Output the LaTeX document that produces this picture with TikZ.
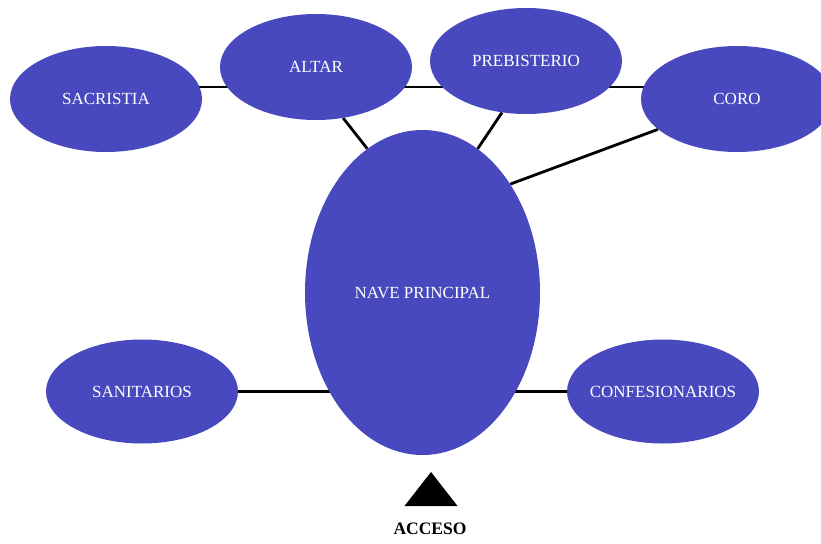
\documentclass[tikz,border=0pt]{standalone}
\usepackage{fontspec}
\setmainfont{Liberation Serif}
\usetikzlibrary{shapes.geometric}
\definecolor{azul}{HTML}{4849BE}
\pgfdeclarelayer{background}
\pgfsetlayers{background,main}

\begin{document}
\begin{tikzpicture}[x=1pt, y=-1pt,
  zona/.style={ellipse, fill=azul, text=white, inner sep=0pt,
    minimum width=192pt, minimum height=106pt,
    font=\fontsize{17}{20}\selectfont},
  linea/.style={line width=2.8pt}]
\useasboundingbox (0,0) rectangle (821,543);

\node[zona] (SAC) at (106,99) {SACRISTIA};
\node[zona] (ALT) at (316,67) {ALTAR};
\node[zona] (PRE) at (526,61) {PREBISTERIO};
\node[zona] (COR) at (737,99) {CORO};
\node[zona, minimum width=235pt, minimum height=325pt] (NAV) at (422.5,292.5) {NAVE PRINCIPAL};
\node[zona, minimum height=104pt] (SAN) at (142,391.5) {SANITARIOS};
\node[zona, minimum height=104pt, inner xsep=-15pt] (CON) at (663,391.5) {CONFESIONARIOS};

\coordinate (fila) at (0,87);
\node[font=\bfseries\fontsize{17.5}{20}\selectfont] (ACC) at (430,529) {ACCESO};
\fill (431,472) -- (404.5,506) -- (457.5,506) -- cycle;

\begin{pgfonlayer}{background}
\draw[linea] (SAC |- fila) -- (ALT |- fila) -- (PRE |- fila) -- (COR |- fila);
\draw[linea] (SAN) -- (CON);
\draw[linea] (ALT.-62) -- (NAV.111);
\draw[linea] (PRE.-115) -- (NAV.69);
\draw[linea] (COR.-159) -- (NAV.51);
\end{pgfonlayer}
\end{tikzpicture}
\end{document}
